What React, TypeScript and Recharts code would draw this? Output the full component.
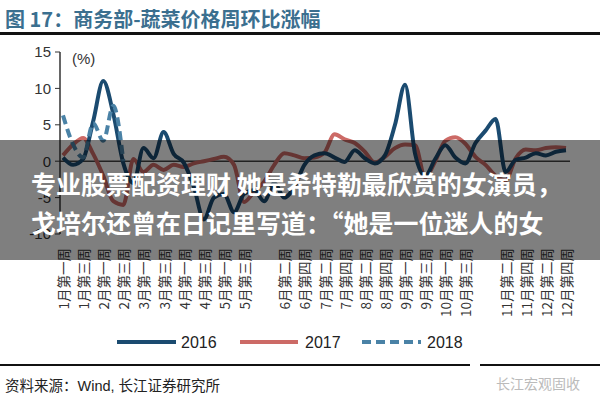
import { LineChart, Line, XAxis, YAxis, ReferenceLine } from 'recharts';

// ---------------------------------------------------------------------------
// 商务部-蔬菜价格周环比涨幅 (weekly, %)
// ---------------------------------------------------------------------------

const weeks = [
  '1月第一周', '1月第二周', '1月第三周', '1月第四周',
  '2月第一周', '2月第二周', '2月第三周', '2月第四周',
  '3月第一周', '3月第二周', '3月第三周', '3月第四周',
  '4月第一周', '4月第二周', '4月第三周', '4月第四周',
  '5月第一周', '5月第二周', '5月第三周', '5月第四周', '5月第五周',
  '6月第一周', '6月第二周', '6月第三周', '6月第四周',
  '7月第一周', '7月第二周', '7月第三周', '7月第四周',
  '8月第一周', '8月第二周', '8月第三周', '8月第四周', '8月第五周',
  '9月第一周', '9月第二周', '9月第三周', '9月第四周',
  '10月第一周', '10月第二周', '10月第三周', '10月第四周', '10月第五周',
  '11月第一周', '11月第二周', '11月第三周', '11月第四周',
  '12月第一周', '12月第二周', '12月第三周', '12月第四周',
];

// labels printed under the axis
const tickLabels = [
  '1月第一周', '1月第三周', '2月第一周', '2月第三周', '3月第一周', '3月第三周',
  '4月第一周', '4月第三周', '5月第一周', '5月第三周',
  '6月第二周', '6月第四周', '7月第二周', '7月第四周', '8月第二周', '8月第四周',
  '9月第一周', '9月第三周', '10月第一周', '10月第三周',
  '11月第二周', '11月第四周', '12月第二周', '12月第四周',
];

const yTicks = [-10, -5, 0, 5, 10, 15];

const s2016 = [
  0.5, -0.5, 0.3, 5.5, 11.0, 6.5, -0.3, -3.0, 1.8, 0.4,
  4.0, 1.0, -0.2, -3.5, -8.0, -5.0, -4.5, -7.0, -4.5, -4.0,
  -5.5, -3.0, -5.0, -3.5, -0.5, 0.8, 1.1, 0.5, -0.1, 1.5,
  0.4, -0.3, 0.8, 5.0, 10.5, 1.0, -2.0, 0.3, 2.2, 0.5,
  -0.3, 2.5, 4.2, 5.8, -1.5, 0.2, 0.5, 1.1, 0.8, 1.3,
  1.5,
];

const s2017 = [
  0.8, 2.3, 3.2, 1.0, -2.0, -5.5, -6.0, 0.3, -1.5, -0.5,
  -1.2, -0.5, -0.8, -0.3, 0.0, 0.3, 0.6, -0.5, -5.6, -4.2,
  -2.8, -0.5, 1.1, 0.8, 0.4, 0.5, 1.2, 3.7, 3.0, 2.5,
  1.3, -0.2, 0.6, 1.8, 2.3, 2.2, -2.2, 0.0, 2.8, 3.3,
  2.4, 0.6, -0.5, -2.0, -2.6, 0.4, 1.6, 1.5, 1.8, 1.9,
  1.8,
];

const s2018 = [6.3, 2.3, 0.5, 5.2, 2.8, 7.6, 0.0];

const data = weeks.map((w, i) => ({
  week: w,
  y2016: s2016[i],
  y2017: s2017[i],
  y2018: i < s2018.length ? s2018[i] : null,
}));

const C2016 = '#1b4b70';
const C2017 = '#cc6a66';
const C2018 = '#4a82a6';

const latin = "'Liberation Sans', 'Noto Sans CJK SC', sans-serif";
const cjk = "'Noto Sans CJK SC', sans-serif";

function WeekTick(props: any) {
  const { x, y, payload } = props;
  if (!tickLabels.includes(payload.value)) return null;
  const ty = y + 6;
  return (
    <text
      x={x}
      y={ty}
      transform={`rotate(-90, ${x}, ${ty})`}
      textAnchor="end"
      dominantBaseline="central"
      fontSize={13.5}
      fontFamily={cjk}
      fill="#333"
    >
      {payload.value}
    </text>
  );
}

export default function App() {
  return (
    <div
      style={{
        position: 'fixed',
        left: 0,
        top: 0,
        width: 600,
        height: 400,
        background: '#fff',
        overflow: 'hidden',
        fontFamily: latin,
      }}
    >
      {/* title */}
      <div
        style={{
          position: 'absolute',
          left: 5,
          top: 4,
          fontSize: 20,
          fontWeight: 'bold',
          fontFamily: cjk,
          color: '#3b6f8f',
          whiteSpace: 'nowrap',
        }}
      >
        图 17：商务部-蔬菜价格周环比涨幅
      </div>
      <div style={{ position: 'absolute', left: 0, top: 32, width: 600, height: 2.5, background: '#111' }} />

      <div style={{ position: 'absolute', left: 0, top: 0 }}>
        <LineChart width={600} height={330} data={data} margin={{ top: 52, right: 30, bottom: 0, left: 0 }}>
          <XAxis
            dataKey="week"
            interval={0}
            height={96}
            axisLine={false}
            tickLine={false}
            tick={<WeekTick />}
            padding={{ left: 3, right: 4 }}
          />
          <YAxis
            width={60}
            domain={[-10, 15]}
            ticks={yTicks}
            allowDataOverflow
            axisLine={{ stroke: '#333', strokeWidth: 1.5 }}
            tickLine={{ stroke: '#333' }}
            tickSize={5}
            tickMargin={4}
            tick={{ fill: '#333', fontSize: 15, fontFamily: latin }}
          />
          <ReferenceLine y={0} stroke="#444" strokeWidth={1.5} />
          <Line type="monotone" dataKey="y2017" stroke={C2017} strokeWidth={4} dot={false} isAnimationActive={false} />
          <Line type="monotone" dataKey="y2016" stroke={C2016} strokeWidth={4} dot={false} isAnimationActive={false} />
          <Line
            type="monotone"
            dataKey="y2018"
            stroke={C2018}
            strokeWidth={4}
            strokeDasharray="9 5"
            dot={false}
            isAnimationActive={false}
          />
        </LineChart>
      </div>

      <div style={{ position: 'absolute', left: 72, top: 50, fontSize: 15, color: '#333' }}>(%)</div>

      {/* overlay band */}
      <div style={{ position: 'absolute', left: 0, top: 140, width: 600, height: 120, background: 'rgba(0,0,0,0.5)' }} />
      <div
        style={{
          position: 'absolute',
          left: 31,
          top: 168,
          fontSize: 25,
          lineHeight: '30px',
          fontWeight: 'bold',
          fontFamily: cjk,
          color: '#fff',
          whiteSpace: 'nowrap',
        }}
      >
        专业股票配资理财 她是希特勒最欣赏的女演员，
      </div>
      <div
        style={{
          position: 'absolute',
          left: 31,
          top: 207,
          fontSize: 25,
          lineHeight: '30px',
          fontWeight: 'bold',
          fontFamily: cjk,
          color: '#fff',
          whiteSpace: 'nowrap',
        }}
      >
        戈培尔还曾在日记里写道：“她是一位迷人的女
      </div>

      {/* legend */}
      <svg style={{ position: 'absolute', left: 0, top: 330 }} width={600} height={24}>
        <line x1={117} y1={12} x2={176} y2={12} stroke={C2016} strokeWidth={4} />
        <text x={181} y={12} dominantBaseline="central" fontSize={16} fontFamily={latin} fill="#222">2016</text>
        <line x1={240} y1={12} x2={298} y2={12} stroke={C2017} strokeWidth={4} />
        <text x={305} y={12} dominantBaseline="central" fontSize={16} fontFamily={latin} fill="#222">2017</text>
        <line x1={362} y1={12} x2={421} y2={12} stroke={C2018} strokeWidth={4} strokeDasharray="9 5" />
        <text x={427} y={12} dominantBaseline="central" fontSize={16} fontFamily={latin} fill="#222">2018</text>
      </svg>

      {/* footer */}
      <div style={{ position: 'absolute', left: 0, top: 364, width: 470, height: 2, background: '#111' }} />
      <div style={{ position: 'absolute', left: 480, top: 364, width: 120, height: 2, background: '#111' }} />
      <div
        style={{
          position: 'absolute',
          left: 5,
          top: 374,
          fontSize: 14.5,
          fontFamily: latin,
          color: '#222',
          whiteSpace: 'nowrap',
        }}
      >
        资料来源：Wind, 长江证券研究所
      </div>
      <div
        style={{
          position: 'absolute',
          left: 496,
          top: 373,
          fontSize: 14,
          fontFamily: cjk,
          color: '#bbb',
          whiteSpace: 'nowrap',
        }}
      >
        长江宏观固收
      </div>
    </div>
  );
}
